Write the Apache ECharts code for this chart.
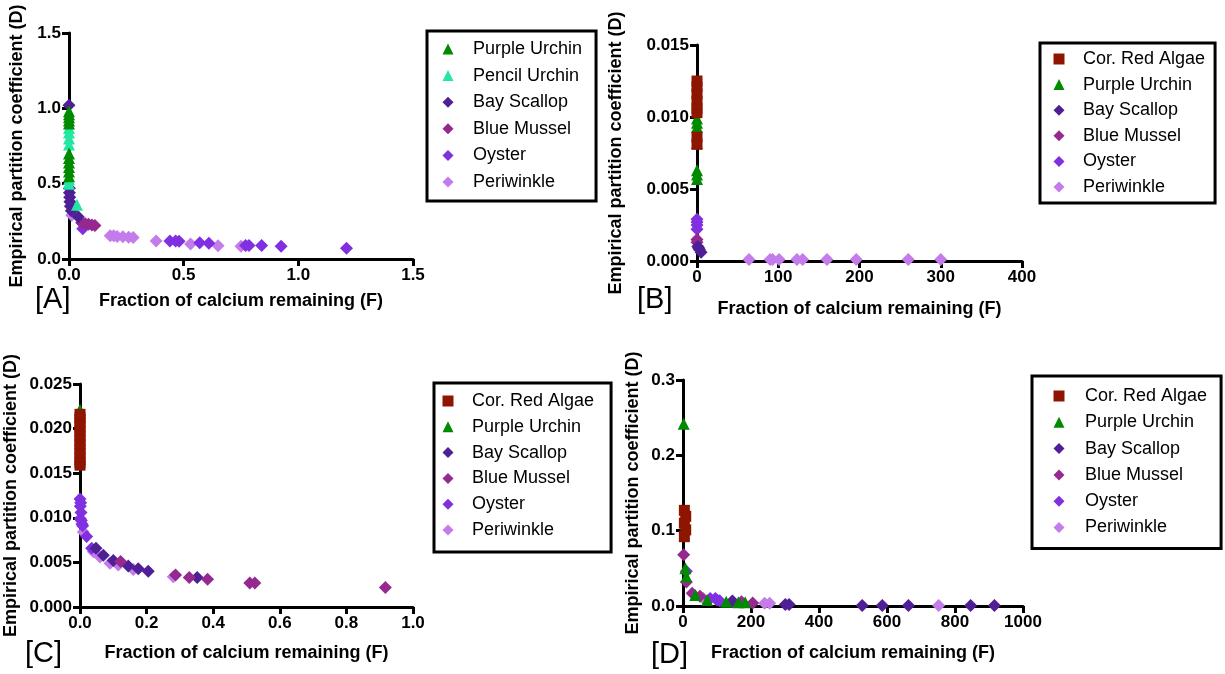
<!DOCTYPE html>
<html><head><meta charset="utf-8">
<script src="https://cdn.jsdelivr.net/npm/echarts@6/dist/echarts.min.js"></script>
<style>html,body{margin:0;padding:0;background:#fff}#c{width:1225px;height:674px}</style>
</head><body><div id="c"></div>
<script>
// ---------- tick labels ----------
const aXTicks = [0, 0.5, 1.0, 1.5];
const aYTicks = [0, 0.5, 1.0, 1.5];
const bXTicks = [0, 100, 200, 300, 400];
const bYTicks = [0, 0.005, 0.010, 0.015];
const cXTicks = [0, 0.2, 0.4, 0.6, 0.8, 1.0];
const cYTicks = [0, 0.005, 0.010, 0.015, 0.020, 0.025];
const dXTicks = [0, 200, 400, 600, 800, 1000];
const dYTicks = [0, 0.1, 0.2, 0.3];

const xTitle = 'Fraction of calcium remaining (F)';
const yTitle = 'Empirical partition coefficient (D)';
const panelLabels = ['[A]', '[B]', '[C]', '[D]'];

// ---------- categories ----------
const legendA = ['Purple Urchin', 'Pencil Urchin', 'Bay Scallop', 'Blue Mussel', 'Oyster', 'Periwinkle'];
const legendBCD = ['Cor. Red Algae', 'Purple Urchin', 'Bay Scallop', 'Blue Mussel', 'Oyster', 'Periwinkle'];

// ---------- panel A values [F, D] ----------
const aPurpleUrchin = [[0,0.98],[0,0.96],[0,0.94],[0,0.92],[0,0.90],[0,0.70],[0,0.67],[0,0.64],[0,0.61],[0,0.58],[0,0.55]];
const aPencilUrchin = [[0,0.87],[0,0.84],[0,0.80],[0,0.76],[0,0.53],[0,0.50],[0.035,0.36]];
const aBayScallop = [[0,1.02],[0.002,0.47],[0.002,0.44],[0.003,0.41],[0.004,0.38],[0.006,0.35],[0.01,0.32],[0.04,0.28]];
const aBlueMussel = [[0.055,0.24],[0.07,0.235],[0.085,0.23],[0.1,0.225],[0.113,0.222]];
const aOyster = [[0.06,0.20],[0.44,0.12],[0.465,0.12],[0.48,0.118],[0.57,0.108],[0.61,0.105],[0.77,0.09],[0.785,0.09],[0.84,0.09],[0.925,0.085],[1.21,0.072]];
const aPeriwinkle = [[0.012,0.29],[0.18,0.155],[0.195,0.155],[0.21,0.15],[0.235,0.148],[0.26,0.145],[0.28,0.143],[0.38,0.12],[0.53,0.10],[0.65,0.088],[0.75,0.085]];

// ---------- panel B values ----------
const bRedAlgae = [[0,0.0125],[0,0.0121],[0,0.0116],[0,0.0111],[0,0.0106],[0,0.0103],[0,0.0086],[0,0.0081]];
const bPurpleUrchin = [[0,0.0099],[0,0.0096],[0,0.0093],[0,0.0082],[0,0.0063],[0,0.0060],[0,0.0057]];
const bBayScallop = [[1,0.0010],[2,0.0009],[3,0.0008],[5,0.0006]];
const bBlueMussel = [[0,0.0015],[0,0.0013]];
const bOyster = [[0,0.0029],[0,0.0027],[0,0.0025],[0,0.0022]];
const bPeriwinkle = [[64,0.0001],[90,0.0001],[93,0.0001],[101,0.0001],[123,0.0001],[130,0.0001],[160,0.0001],[196,0.0001],[260,0.0001],[300,0.0001]];

// ---------- panel C values ----------
const cRedAlgae = [[0,0.0216],[0,0.0212],[0,0.0207],[0,0.0202],[0,0.0197],[0,0.0192],[0,0.0187],[0,0.0182],[0,0.0177],[0,0.0172],[0,0.0167],[0,0.0162],[0,0.0159]];
const cPurpleUrchin = [[0,0.0221],[0,0.0214],[0,0.0166]];
const cBayScallop = [[0.048,0.0066],[0.07,0.0058],[0.1,0.0052],[0.145,0.0046],[0.175,0.0043],[0.205,0.0040],[0.352,0.0033]];
const cBlueMussel = [[0.122,0.0051],[0.287,0.0036],[0.328,0.0033],[0.383,0.0031],[0.51,0.0027],[0.525,0.0027],[0.917,0.0022]];
const cOyster = [[0,0.0121],[0.002,0.0117],[0.001,0.0113],[0.003,0.0106],[0.001,0.0099],[0.004,0.0097],[0.006,0.0093],[0.008,0.0091],[0.02,0.0079],[0.035,0.0066]];
const cPeriwinkle = [[0.01,0.0084],[0.04,0.0062],[0.06,0.0056],[0.09,0.0049],[0.115,0.0047],[0.16,0.0042],[0.28,0.0034]];

// ---------- panel D values ----------
const dRedAlgae = [[4,0.127],[8,0.119],[4,0.110],[8,0.101],[4,0.092]];
const dPurpleUrchin = [[2,0.242],[7,0.050],[10,0.039],[36,0.0146],[71,0.008],[127,0.0057],[163,0.005],[183,0.005]];
const dBayScallop = [[145,0.0066],[301,0.002],[312,0.002],[527,0.0008],[586,0.0008],[663,0.0008],[846,0.0008],[916,0.0008]];
const dBlueMussel = [[2,0.068],[10,0.032],[27,0.017],[50,0.013],[172,0.0058],[205,0.004]];
const dOyster = [[10,0.046],[80,0.010],[95,0.010],[100,0.008],[108,0.007]];
const dPeriwinkle = [[60,0.010],[147,0.006],[240,0.0036],[255,0.0036],[752,0.0008]];

// ---------- styling ----------
const FONT = '"Liberation Sans", Arial, Helvetica, sans-serif';
const COLORS = {
  'Cor. Red Algae': '#8E1600',
  'Purple Urchin': '#008A00',
  'Pencil Urchin': '#22E6A2',
  'Bay Scallop': '#4F1F96',
  'Blue Mussel': '#952990',
  'Oyster': '#8030E0',
  'Periwinkle': '#C47CEB'
};
const SYMBOLS = {
  'Cor. Red Algae': ['rect', 11],
  'Purple Urchin': ['triangle', 12],
  'Pencil Urchin': ['triangle', 12],
  'Bay Scallop': ['diamond', 13],
  'Blue Mussel': ['diamond', 13],
  'Oyster': ['diamond', 13],
  'Periwinkle': ['diamond', 13]
};

const grids = [
  {left: 69, top: 33, width: 344, height: 226},
  {left: 697, top: 45, width: 325, height: 216},
  {left: 80, top: 384, width: 333, height: 223},
  {left: 683, top: 380, width: 340, height: 226}
];

function axisBase(ticks, dec) {
  return {
    type: 'value',
    min: ticks[0], max: ticks[ticks.length - 1], interval: ticks[1] - ticks[0],
    axisLine: {show: true, onZero: false, lineStyle: {color: '#000', width: 3}},
    axisTick: {show: true, length: 7, lineStyle: {color: '#000', width: 3}},
    axisLabel: {fontSize: 17, fontWeight: 'bold', color: '#000', fontFamily: FONT, margin: 8,
      formatter: v => Number(v).toFixed(dec)},
    splitLine: {show: false},
    nameLocation: 'middle',
    nameTextStyle: {fontSize: 18, fontWeight: 'bold', color: '#000', fontFamily: FONT}
  };
}
function xAx(gi, ticks, dec, gap) {
  return Object.assign(axisBase(ticks, dec), {gridIndex: gi, name: xTitle, nameGap: gap});
}
function yAx(gi, ticks, dec, gap) {
  return Object.assign(axisBase(ticks, dec), {gridIndex: gi, name: yTitle, nameGap: gap});
}

function ser(name, data, gi, z) {
  return {
    type: 'scatter', name: name, data: data, xAxisIndex: gi, yAxisIndex: gi,
    symbol: SYMBOLS[name][0], symbolSize: SYMBOLS[name][1],
    itemStyle: {color: COLORS[name], opacity: 1},
    z: z || 2, clip: false
  };
}

function leg(names, left, top, padding, itemGap, textPad) {
  return {
    data: names, orient: 'vertical', left: left, top: top, padding: padding,
    itemWidth: 11, itemHeight: 11, itemGap: itemGap,
    borderColor: '#000', borderWidth: 3, backgroundColor: '#fff',
    selectedMode: false,
    textStyle: {fontSize: 18, color: '#000', fontFamily: FONT, lineHeight: 20,
      padding: [0, 0, 0, textPad]}
  };
}

const option = {
  animation: false,
  backgroundColor: '#fff',
  grid: grids,
  xAxis: [xAx(0, aXTicks, 1, 33), xAx(1, bXTicks, 0, 39), xAx(2, cXTicks, 1, 37), xAx(3, dXTicks, 0, 38)],
  yAxis: [yAx(0, aYTicks, 1, 43), yAx(1, bYTicks, 3, 72), yAx(2, cYTicks, 3, 60), yAx(3, dYTicks, 1, 41)],
  legend: [
    leg(legendA, 427, 31, [8, 14, 9, 15.5], 6.6, 14.5),
    leg(legendBCD, 1040, 43, [6, 10, 6, 13.5], 5.6, 13.5),
    leg(legendBCD, 434, 383, [8, 17, 12, 8.5], 5.8, 13.5),
    leg(legendBCD, 1032, 376, [10, 14, 11, 21.5], 6.3, 15.5)
  ],
  graphic: [
    {type: 'text', left: 35, top: 285, style: {text: panelLabels[0], fontSize: 29, fill: '#000', fontFamily: FONT}},
    {type: 'text', left: 637, top: 285, style: {text: panelLabels[1], fontSize: 29, fill: '#000', fontFamily: FONT}},
    {type: 'text', left: 25, top: 639, style: {text: panelLabels[2], fontSize: 29, fill: '#000', fontFamily: FONT}},
    {type: 'text', left: 651, top: 640, style: {text: panelLabels[3], fontSize: 29, fill: '#000', fontFamily: FONT}}
  ],
  series: [
    ser('Periwinkle', aPeriwinkle, 0), ser('Oyster', aOyster, 0), ser('Blue Mussel', aBlueMussel, 0),
    ser('Bay Scallop', aBayScallop, 0), ser('Pencil Urchin', aPencilUrchin, 0), ser('Purple Urchin', aPurpleUrchin, 0),

    ser('Periwinkle', bPeriwinkle, 1), ser('Oyster', bOyster, 1), ser('Blue Mussel', bBlueMussel, 1),
    ser('Bay Scallop', bBayScallop, 1), ser('Purple Urchin', bPurpleUrchin, 1), ser('Cor. Red Algae', bRedAlgae, 1),

    ser('Periwinkle', cPeriwinkle, 2), ser('Oyster', cOyster, 2), ser('Bay Scallop', cBayScallop, 2),
    ser('Blue Mussel', cBlueMussel, 2), ser('Purple Urchin', cPurpleUrchin, 2), ser('Cor. Red Algae', cRedAlgae, 2),

    ser('Periwinkle', dPeriwinkle, 3), ser('Oyster', dOyster, 3), ser('Blue Mussel', dBlueMussel, 3),
    ser('Bay Scallop', dBayScallop, 3), ser('Purple Urchin', dPurpleUrchin, 3), ser('Cor. Red Algae', dRedAlgae, 3)
  ]
};

const chart = echarts.init(document.getElementById('c'), null, {renderer: 'canvas'});
chart.setOption(option);
</script>
</body></html>
